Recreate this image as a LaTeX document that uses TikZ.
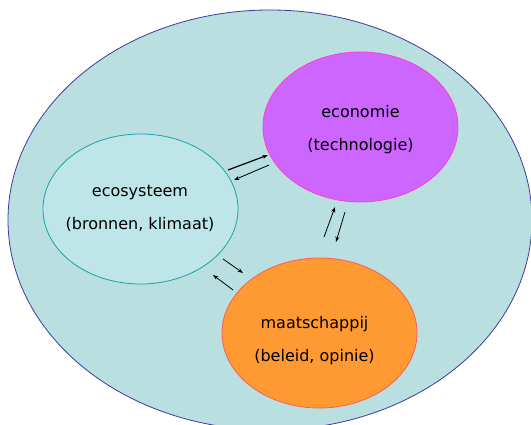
\documentclass[tikz,border=0pt]{standalone}
\usepackage{fontspec}
\setmainfont{DejaVu Sans}
\usetikzlibrary{shapes.geometric,arrows.meta}
\definecolor{outerfill}{HTML}{B9DFE1}
\definecolor{outerline}{HTML}{3C3C9C}
\definecolor{ecofill}{HTML}{BEE6E8}
\definecolor{ecoline}{HTML}{19A3A3}
\definecolor{econfill}{HTML}{CC66FF}
\definecolor{econline}{HTML}{FF3FC8}
\definecolor{maatfill}{HTML}{FF9A33}
\definecolor{maatline}{HTML}{FF5A5A}
\tikzset{
  sphere/.style={ellipse, minimum width=195pt, minimum height=150pt, inner sep=0pt, line width=0.8pt},
  caption/.style={font=\fontsize{16}{33}\selectfont, align=center, text=black, inner sep=0pt},
  flow/.style={-{Stealth[length=5.5pt,width=4pt]}, line width=0.8pt},
}
\begin{document}
\begin{tikzpicture}[x=1pt,y=-1pt]
  \useasboundingbox[fill=white] (0,0) rectangle (531,425);
  \begin{scope}
    \clip (0,0) rectangle (531,425);
    % surrounding system
    \node[ellipse, minimum width=524pt, minimum height=420pt, inner sep=0pt,
          fill=outerfill, draw=outerline, line width=0.8pt] (world) at (270,220) {};
  \end{scope}

  % the three subsystems
  \node[sphere, fill=ecofill, draw=ecoline] (eco) at (140.5,209) {};
  \node[sphere, fill=econfill, draw=econline] (econ) at (360.5,127) {};
  \node[sphere, fill=maatfill, draw=maatline] (maat) at (319.5,333) {};

  \node[caption] (ecotext) at (140,208.5) {ecosysteem\\(bronnen, klimaat)};
  \node[caption] (econtext) at (360.5,129.5) {economie\\(technologie)};
  \node[caption] (maattext) at (314.5,341) {maatschappij\\(beleid, opinie)};

  % arrow end points between the subsystems
  \coordinate (a1) at (228,170);  \coordinate (b1) at (268,155);
  \coordinate (a2) at (269,165);  \coordinate (b2) at (234,180);
  \coordinate (a3) at (324,237);  \coordinate (b3) at (335,207);
  \coordinate (a4) at (345,212);  \coordinate (b4) at (336,242);
  \coordinate (a5) at (223,259);  \coordinate (b5) at (243,273);
  \coordinate (a6) at (233,290);  \coordinate (b6) at (213,275);

  \draw[flow, line width=1.2pt] (a1) -- (b1);
  \draw[flow] (a2) -- (b2);
  \draw[flow] (a3) -- (b3);
  \draw[flow] (a4) -- (b4);
  \draw[flow] (a5) -- (b5);
  \draw[flow] (a6) -- (b6);
\end{tikzpicture}
\end{document}
